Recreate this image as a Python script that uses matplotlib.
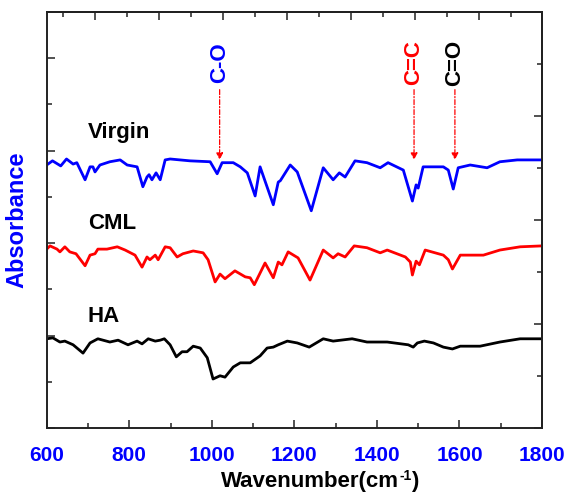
import numpy as np
import matplotlib
matplotlib.use("Agg")
import matplotlib.pyplot as plt
from matplotlib.transforms import offset_copy

plt.rcParams['font.family'] = ['Liberation Sans', 'DejaVu Sans']
plt.rcParams['font.weight'] = 'bold'

# ---- data (wavenumber, absorbance a.u., stacked) ----
virgin_x = [600, 614, 634, 648, 664, 673, 693, 705, 712, 717, 729, 753, 778, 795, 819, 833,
            843, 848, 855, 865, 875, 887, 899, 947, 996, 1013, 1025, 1052, 1069, 1086, 1105,
            1117, 1149, 1161, 1166, 1190, 1207, 1241, 1270, 1294, 1309, 1323, 1347, 1376,
            1408, 1427, 1464, 1486, 1495, 1500, 1512, 1561, 1573, 1585, 1597, 1626, 1667,
            1698, 1740, 1800]
virgin_y = [5.69, 5.78, 5.67, 5.82, 5.71, 5.74, 5.37, 5.65, 5.65, 5.54, 5.69, 5.76, 5.80, 5.69,
            5.65, 5.22, 5.43, 5.48, 5.37, 5.52, 5.37, 5.80, 5.82, 5.78, 5.76, 5.50, 5.74, 5.74,
            5.65, 5.52, 5.02, 5.65, 4.83, 5.32, 5.35, 5.69, 5.54, 4.70, 5.63, 5.37, 5.52, 5.43,
            5.78, 5.74, 5.63, 5.74, 5.58, 4.91, 5.26, 5.19, 5.65, 5.65, 5.58, 5.17, 5.63, 5.69,
            5.63, 5.76, 5.80, 5.80]

cml_x = [600, 608, 625, 632, 644, 656, 671, 693, 705, 717, 724, 746, 771, 790, 814, 831, 843,
         850, 863, 870, 887, 899, 916, 930, 955, 979, 991, 1008, 1020, 1032, 1056, 1081, 1093,
         1103, 1129, 1149, 1161, 1170, 1185, 1209, 1238, 1270, 1294, 1306, 1323, 1345, 1376,
         1408, 1425, 1469, 1481, 1486, 1495, 1503, 1517, 1561, 1573, 1583, 1602, 1658, 1698,
         1747, 1800]
cml_y = [3.87, 3.94, 3.87, 3.81, 3.92, 3.81, 3.77, 3.51, 3.74, 3.77, 3.87, 3.87, 3.92, 3.85,
         3.74, 3.48, 3.70, 3.64, 3.74, 3.64, 3.92, 3.90, 3.70, 3.77, 3.83, 3.79, 3.64, 3.16,
         3.33, 3.23, 3.40, 3.27, 3.25, 3.10, 3.57, 3.25, 3.59, 3.53, 3.81, 3.68, 3.20, 3.85,
         3.68, 3.77, 3.70, 3.94, 3.90, 3.79, 3.85, 3.70, 3.59, 3.31, 3.61, 3.53, 3.85, 3.74,
         3.64, 3.44, 3.74, 3.74, 3.85, 3.92, 3.94]

ha_x = [600, 615, 632, 644, 664, 688, 705, 724, 753, 773, 797, 819, 831, 846, 863, 875, 885,
        899, 914, 928, 940, 955, 972, 989, 1003, 1020, 1032, 1052, 1069, 1093, 1117, 1134,
        1149, 1161, 1183, 1207, 1236, 1270, 1294, 1340, 1376, 1425, 1476, 1488, 1498, 1515,
        1537, 1561, 1583, 1602, 1650, 1698, 1747, 1800]
ha_y = [1.93, 1.95, 1.86, 1.88, 1.80, 1.62, 1.84, 1.93, 1.86, 1.90, 1.80, 1.88, 1.82, 1.93,
        1.88, 1.90, 1.93, 1.80, 1.54, 1.65, 1.65, 1.77, 1.73, 1.52, 1.06, 1.13, 1.10, 1.32,
        1.41, 1.41, 1.56, 1.73, 1.75, 1.80, 1.88, 1.84, 1.75, 1.93, 1.88, 1.93, 1.86, 1.86,
        1.80, 1.75, 1.84, 1.88, 1.84, 1.75, 1.71, 1.77, 1.77, 1.86, 1.93, 1.93]

series_labels = ["Virgin", "CML", "HA"]
label_x = 700
label_y = [6.28, 4.31, 2.29]

bond_labels = ["C-O", "C=C", "C=O"]
bond_colors = ["#0000FF", "#FF0000", "#000000"]
bond_x = [1015, 1486, 1585]
arrow_top = 7.32
arrow_tip = 5.80
bond_text_y = 7.9

xticks = [600, 800, 1000, 1200, 1400, 1600, 1800]

# ---- figure ----
fig = plt.figure(figsize=(5.72, 4.96), dpi=100)
ax = fig.add_axes([46.7 / 572, 68 / 496, 495.3 / 572, 416 / 496])

ax.plot(virgin_x, virgin_y, color="#0000FF", lw=2.0)
ax.plot(cml_x, cml_y, color="#FF0000", lw=2.0)
ax.plot(ha_x, ha_y, color="#000000", lw=2.0)

ax.set_xlim(600, 1800)
ax.set_ylim(0, 9)

for name, yv in zip(series_labels, label_y):
    ax.text(label_x, yv, name, fontsize=16, fontweight='bold', ha='left', va='baseline')

for lab, col, xv in zip(bond_labels, bond_colors, bond_x):
    ax.text(xv + 3, bond_text_y, lab, color=col, fontsize=16, fontweight='bold',
            rotation=90, ha='center', va='center')
    ax.annotate("", xy=(xv + 4, arrow_tip), xytext=(xv + 4, arrow_top),
                arrowprops=dict(arrowstyle='-|>', color='#FF0000', lw=0.9,
                                linestyle=(0, (4, 1.5, 1, 1.5)),
                                mutation_scale=10, shrinkA=0, shrinkB=0))

# spines
for s in ax.spines.values():
    s.set_linewidth(1.4)
    s.set_color('#222222')

ax.set_xticks(xticks)
ax.set_xticks(np.arange(700, 1800, 200), minor=True)
ax.set_yticks([0, 2, 4, 6, 8])
ax.set_yticks([1, 3, 5, 7], minor=True)
ax.set_yticklabels([])
ax.tick_params(axis='both', which='major', direction='in', length=6, width=1.1, color='#222222')
ax.tick_params(axis='both', which='minor', direction='in', length=3.5, width=1.1, color='#222222')
ax.tick_params(axis='x', which='major', pad=13, labelsize=15, labelcolor='#0000FF')
for t in ax.get_xticklabels():
    t.set_fontweight('bold')

# top axis ticks
top = ax.secondary_xaxis('top')
top_step = 155.2
top.set_xticks([716.4 + top_step * k for k in range(7)])
top.set_xticks([639 + top_step * k for k in range(8)], minor=True)
top.set_xticklabels([])
top.tick_params(which='major', direction='in', length=6, width=1.1, color='#222222')
top.tick_params(which='minor', direction='in', length=3.5, width=1.1, color='#222222')
top.spines['top'].set_linewidth(1.4)

# right axis ticks
right = ax.secondary_yaxis('right')
right.set_yticks([0, 2.25, 4.5, 6.75])
right.set_yticks([1.125, 3.375, 5.625, 7.875], minor=True)
right.set_yticklabels([])
right.tick_params(which='major', direction='in', length=6, width=1.1, color='#222222')
right.tick_params(which='minor', direction='in', length=3.5, width=1.1, color='#222222')
right.spines['right'].set_linewidth(1.4)

ax.set_ylabel("Absorbance", color="#0000FF", fontsize=17, fontweight='bold', labelpad=10)

# x label composed: "Wavenumber(cm" + superscript "-1" + ")"
renderer = fig.canvas.get_renderer()
base_y = 9 / 496
parts = [("Wavenumber(cm", 16, 0), ("-1", 10, 7), (")", 16, 0)]
widths = []
for txt, fs, _ in parts:
    t = fig.text(0, 0, txt, fontsize=fs, fontweight='bold')
    widths.append(t.get_window_extent(renderer).width)
    t.remove()
total = sum(widths)
x0 = 320 - total / 2
cur = x0
for (txt, fs, dy), w in zip(parts, widths):
    fig.text(cur / 572, base_y + dy / 496, txt, fontsize=fs, fontweight='bold',
             ha='left', va='baseline')
    cur += w

fig.savefig("out.png", dpi=100)
